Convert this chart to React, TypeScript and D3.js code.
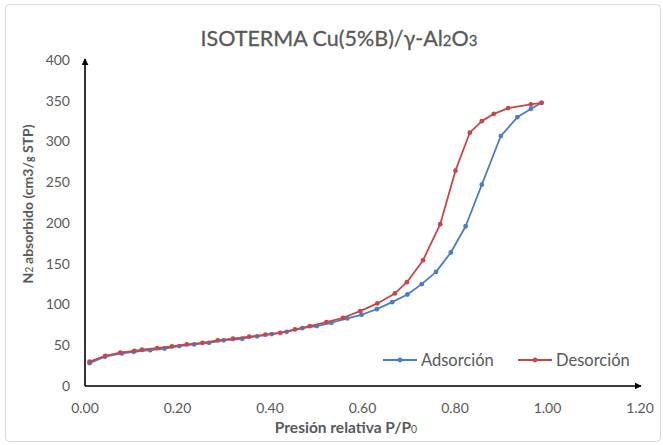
import React, { useEffect, useRef } from "react";
import * as d3 from "d3";

// Adsorción (blue)
const adsX = [0.01, 0.043, 0.08, 0.105, 0.141, 0.172, 0.204, 0.236, 0.268, 0.3, 0.34, 0.372, 0.404, 0.436, 0.47, 0.501, 0.533, 0.567, 0.598, 0.631, 0.664, 0.697, 0.728, 0.759, 0.791, 0.823, 0.858, 0.899, 0.935, 0.964, 0.987];
const adsY = [28, 36, 40, 42, 44, 46, 49, 51, 53, 56, 58, 61, 63.7, 66.5, 71, 73.5, 77.6, 82.9, 87.4, 94.3, 102.9, 112.3, 125, 140, 163.8, 196, 247, 306.7, 330, 340, 347.5];

// Desorción (red)
const desX = [0.01, 0.044, 0.076, 0.107, 0.123, 0.156, 0.188, 0.22, 0.254, 0.287, 0.32, 0.355, 0.39, 0.422, 0.454, 0.486, 0.522, 0.558, 0.595, 0.632, 0.67, 0.696, 0.731, 0.768, 0.801, 0.832, 0.858, 0.884, 0.915, 0.964, 0.987];
const desY = [30, 37, 41, 43, 44.5, 46.5, 48.5, 51, 53, 56, 58, 60.5, 63, 65.3, 69.4, 73.5, 78.4, 83.7, 91.9, 101.3, 113.6, 127.4, 154.4, 198.5, 264.2, 310.8, 325, 334, 341, 345.5, 347.5];

const xTicks = [0, 0.2, 0.4, 0.6, 0.8, 1.0, 1.2];
const yTicks = [0, 50, 100, 150, 200, 250, 300, 350, 400];

const series = [
  { name: "Adsorción", xs: adsX, ys: adsY, color: "#4A7EC4" },
  { name: "Desorción", xs: desX, ys: desY, color: "#C6474A" },
];

const W = 663;
const H = 445;
const FONT = "Lato, 'Open Sans', sans-serif";
const GREY = "#595959";

export default function App() {
  const ref = useRef<SVGSVGElement>(null);

  useEffect(() => {
    const svg = d3.select(ref.current);
    svg.selectAll("*").remove();

    const x = d3.scaleLinear().domain([0, 1.2]).range([85, 640]);
    const y = d3.scaleLinear().domain([0, 400]).range([386, 60]);

    // chart frame
    svg.append("rect")
      .attr("x", 5.5).attr("y", 4.5)
      .attr("width", 655).attr("height", 437)
      .attr("rx", 4)
      .attr("fill", "#fff")
      .attr("stroke", "#d9d9d9");

    // title
    const title = svg.append("text")
      .attr("x", 339).attr("y", 46)
      .attr("text-anchor", "middle")
      .attr("font-family", FONT)
      .attr("font-size", 21.5)
      .attr("fill", GREY)
      .attr("stroke", GREY)
      .attr("stroke-width", 0.3);
    title.append("tspan").text("ISOTERMA Cu(5%B)/γ-Al");
    title.append("tspan").attr("font-size", 15).text("2");
    title.append("tspan").text("O");
    title.append("tspan").attr("font-size", 15).text("3");

    // arrow marker
    const defs = svg.append("defs");
    defs.append("marker")
      .attr("id", "arrow")
      .attr("viewBox", "0 0 10 10")
      .attr("refX", 9).attr("refY", 5)
      .attr("markerWidth", 7).attr("markerHeight", 7)
      .attr("markerUnits", "userSpaceOnUse")
      .attr("orient", "auto")
      .append("path")
      .attr("d", "M0,0 L10,5 L0,10 z")
      .attr("fill", "#000");

    // axes
    svg.append("line")
      .attr("x1", x(0)).attr("y1", y(0))
      .attr("x2", x(1.2) + 1).attr("y2", y(0))
      .attr("stroke", "#000").attr("stroke-width", 1.6)
      .attr("marker-end", "url(#arrow)");
    svg.append("line")
      .attr("x1", x(0)).attr("y1", y(0))
      .attr("x2", x(0)).attr("y2", y(400) - 1)
      .attr("stroke", "#000").attr("stroke-width", 1.6)
      .attr("marker-end", "url(#arrow)");

    // tick labels
    svg.append("g").selectAll("text")
      .data(yTicks)
      .join("text")
      .attr("x", 70)
      .attr("y", d => y(d))
      .attr("dy", "0.35em")
      .attr("text-anchor", "end")
      .attr("font-family", FONT)
      .attr("font-size", 14)
      .attr("fill", GREY)
      .text(d => d);

    svg.append("g").selectAll("text")
      .data(xTicks)
      .join("text")
      .attr("x", d => x(d))
      .attr("y", 413)
      .attr("text-anchor", "middle")
      .attr("font-family", FONT)
      .attr("font-size", 14)
      .attr("fill", GREY)
      .text(d => d3.format(".2f")(d));

    // axis titles
    const xl = svg.append("text")
      .attr("x", 346).attr("y", 433)
      .attr("text-anchor", "middle")
      .attr("font-family", FONT)
      .attr("font-size", 15.5)
      .attr("font-weight", "bold")
      .attr("fill", GREY);
    xl.append("tspan").text("Presión relativa P/P");
    xl.append("tspan").attr("font-size", 10.5).attr("font-weight", "normal").text("0");

    const yl = svg.append("text")
      .attr("transform", "translate(33,204) rotate(-90)")
      .attr("text-anchor", "middle")
      .attr("font-family", FONT)
      .attr("font-size", 14)
      .attr("font-weight", "bold")
      .attr("fill", GREY);
    yl.append("tspan").text("N");
    yl.append("tspan").attr("font-size", 10.5).attr("font-weight", "normal").text("2 ");
    yl.append("tspan").text("absorbido (cm3/");
    yl.append("tspan").attr("font-size", 10.5).text("g");
    yl.append("tspan").text(" STP)");

    // series
    const line = d3.line<[number, number]>()
      .x(d => x(d[0]))
      .y(d => y(d[1]));

    series.forEach(s => {
      const pts: [number, number][] = s.xs.map((v, i) => [v, s.ys[i]]);
      const g = svg.append("g");
      g.append("path")
        .datum(pts)
        .attr("d", line)
        .attr("fill", "none")
        .attr("stroke", s.color)
        .attr("stroke-width", 1.8)
        .attr("stroke-linejoin", "round");
      g.selectAll("circle")
        .data(pts)
        .join("circle")
        .attr("cx", d => x(d[0]))
        .attr("cy", d => y(d[1]))
        .attr("r", 2.4)
        .attr("fill", s.color);
    });

    // legend
    const legend = svg.append("g").attr("transform", "translate(383,360)");
    const lx = [0, 135];
    series.forEach((s, i) => {
      const g = legend.append("g").attr("transform", `translate(${lx[i]},0)`);
      g.append("line")
        .attr("x1", 0).attr("x2", 34)
        .attr("stroke", s.color).attr("stroke-width", 1.8);
      g.append("circle").attr("cx", 17).attr("r", 2.4).attr("fill", s.color);
      g.append("text")
        .attr("x", 38).attr("dy", "0.35em")
        .attr("font-family", FONT)
        .attr("font-size", 16.5)
        .attr("fill", GREY)
        .text(s.name);
    });
  }, []);

  return (
    <svg
      ref={ref}
      width={W}
      height={H}
      style={{ display: "block", position: "absolute", left: 0, top: 0 }}
    />
  );
}
